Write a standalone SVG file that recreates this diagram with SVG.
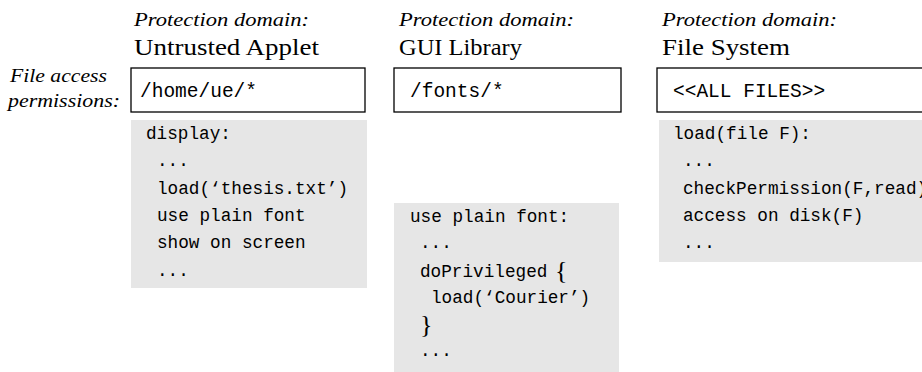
<svg xmlns="http://www.w3.org/2000/svg" width="922" height="372" viewBox="0 0 922 372">
<style>
.it{font-family:"Liberation Serif",serif;font-style:italic;font-size:19px;fill:#000}
.rm{font-family:"Liberation Serif",serif;font-size:23px;fill:#000}
.perm{fill:#fff;stroke:#000;stroke-width:1.3}
.code{fill:#e6e6e6}
.pt{font-family:"Liberation Mono",monospace;font-size:19.5px;fill:#000}
.tt{font-family:"Liberation Mono",monospace;font-size:17.7px;fill:#000}
.br{font-family:"Liberation Serif",serif;font-size:26px;fill:#000}
</style>
<g id="label">
<text class="it" x="10" y="82" textLength="97" lengthAdjust="spacingAndGlyphs">File access</text>
<text class="it" x="8" y="107" textLength="112" lengthAdjust="spacingAndGlyphs">permissions:</text>
</g>
<g id="applet">
<text class="it" x="134" y="26" textLength="175" lengthAdjust="spacingAndGlyphs">Protection domain:</text>
<text class="rm" x="134" y="55" textLength="185" lengthAdjust="spacingAndGlyphs">Untrusted Applet</text>
<rect class="perm" x="131" y="68" width="234" height="44"/>
<text class="pt" x="140" y="97">/home/ue/*</text>
<rect class="code" x="131" y="120" width="236" height="168"/>
<text class="tt" x="146" y="139">display:</text>
<text class="tt" x="157" y="166">...</text>
<text class="tt" x="157" y="194">load(‘thesis.txt’)</text>
<text class="tt" x="157" y="221">use plain font</text>
<text class="tt" x="157" y="248">show on screen</text>
<text class="tt" x="157" y="276">...</text>
</g>
<g id="gui">
<text class="it" x="399" y="26" textLength="175" lengthAdjust="spacingAndGlyphs">Protection domain:</text>
<text class="rm" x="399" y="55" textLength="123" lengthAdjust="spacingAndGlyphs">GUI Library</text>
<rect class="perm" x="394" y="68" width="227" height="44"/>
<text class="pt" x="410" y="97">/fonts/*</text>
<rect class="code" x="394" y="203" width="225" height="172"/>
<text class="tt" x="410" y="222">use plain font:</text>
<text class="tt" x="420" y="248">...</text>
<text class="tt" x="420" y="277">doPrivileged</text>
<text class="br" x="555" y="279">{</text>
<text class="tt" x="431" y="303">load(‘Courier’)</text>
<text class="br" x="420" y="333">}</text>
<text class="tt" x="420" y="356">...</text>
</g>
<g id="filesystem">
<text class="it" x="662" y="26" textLength="175" lengthAdjust="spacingAndGlyphs">Protection domain:</text>
<text class="rm" x="662" y="55" textLength="128" lengthAdjust="spacingAndGlyphs">File System</text>
<rect class="perm" x="657" y="68" width="280" height="44"/>
<text class="pt" x="673" y="97">&lt;&lt;ALL FILES&gt;&gt;</text>
<rect class="code" x="659" y="120" width="270" height="142"/>
<text class="tt" x="673" y="139">load(file F):</text>
<text class="tt" x="683" y="166">...</text>
<text class="tt" x="683" y="194">checkPermission(F,read)</text>
<text class="tt" x="683" y="221">access on disk(F)</text>
<text class="tt" x="683" y="248">...</text>
</g>
<g id="connectors"></g>
</svg>
